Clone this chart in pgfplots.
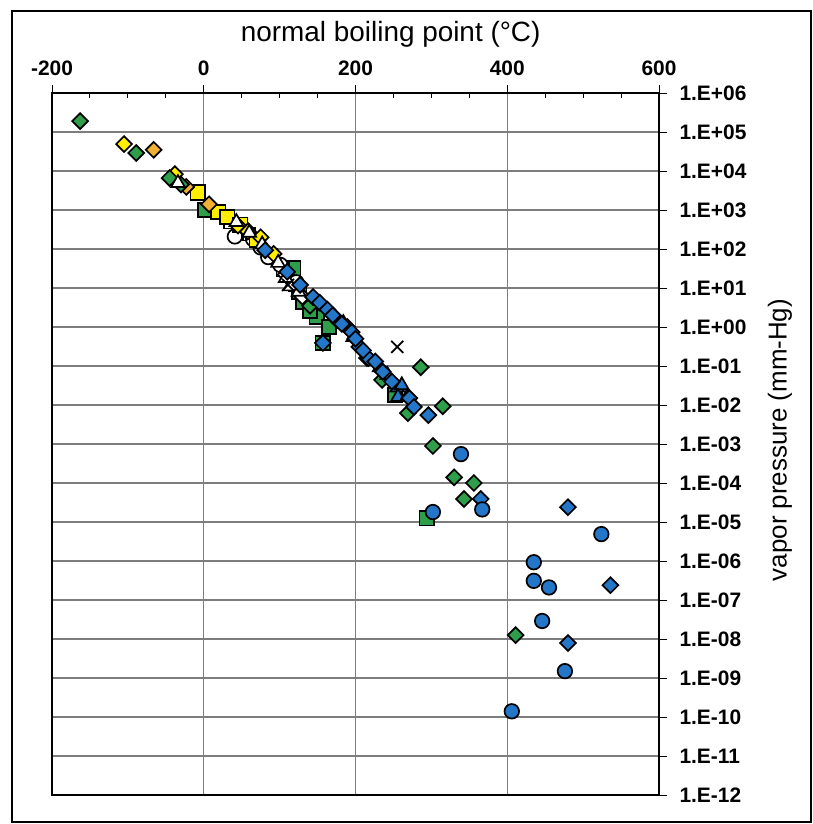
\documentclass[border=0pt]{standalone}
\usepackage{fontspec}
\setmainfont{Liberation Sans}
\usepackage{pgfplots}
\pgfplotsset{compat=1.18}
\definecolor{mgreen}{RGB}{46,158,74}
\definecolor{mblue}{RGB}{36,118,200}
\definecolor{myellow}{RGB}{255,238,0}
\definecolor{morange}{RGB}{240,176,52}
\definecolor{gridgray}{RGB}{125,125,125}
\tikzset{mk/.style={draw=black, line width=1.7bp}}
\begin{document}
\begin{tikzpicture}[x=1bp,y=1bp]
\useasboundingbox (-52,-29) rectangle (761,795);
\draw[line width=2bp] (-40,-27) rectangle (759,784);
\begin{axis}[at={(0,0)}, anchor=south west, scale only axis,
  width=607bp, height=702bp,
  xmin=-200, xmax=600, ymode=log, log basis y=10, ymin=1e-12, ymax=1e6,
  xtick={-200,0,200,400,600}, minor x tick num=3,
  ytick={1e-12,1e-11,1e-10,1e-9,1e-8,1e-7,1e-6,1e-5,1e-4,1e-3,1e-2,1e-1,1,1e1,1e2,1e3,1e4,1e5,1e6},
  yticklabels={1.E-12,1.E-11,1.E-10,1.E-09,1.E-08,1.E-07,1.E-06,1.E-05,1.E-04,1.E-03,1.E-02,1.E-01,1.E+00,1.E+01,1.E+02,1.E+03,1.E+04,1.E+05,1.E+06},
  xtick pos=right, ytick pos=right, xticklabel pos=right, yticklabel pos=right,
  /pgf/number format/assume math mode=true,
  grid=major, major grid style={gridgray, line width=1.2bp},
  axis line style={line width=2.4bp},
  tick style={black, line width=0.9bp},
  tick align=inside, major tick length=8bp, minor tick length=5bp,
  major x tick style={yshift=8bp}, major y tick style={xshift=8bp},
  xticklabel style={font=\fontsize{21}{21}\selectfont\bfseries, yshift=14bp},
  yticklabel style={font=\fontsize{21}{21}\selectfont\bfseries, xshift=17bp},
  xlabel={normal boiling point (°C)},
  ylabel={vapor pressure (mm-Hg)},
  every axis x label/.style={at={(axis description cs:0.558,1.074)}, anchor=base, font=\fontsize{28}{28}\selectfont},
  every axis y label/.style={at={(axis description cs:1.1994,0.5057)}, rotate=90, anchor=center, font=\fontsize{26}{26}\selectfont},
  clip=false,
  every axis plot/.append style={only marks},
]
% green squares
\addplot[mark=square*, mark size=7.3, mark options={mk, fill=mgreen}] coordinates {
(2,1.0e3) (118,32) (131,4.4) (126,8) (149,1.8) (140,2.6) (157,0.39) (294,1.26e-5) (252,0.018) (165,1.0)};
% white squares
\addplot[mark=square*, mark size=6.3, mark options={mk, fill=white}] coordinates {
(35,4.9e2) (60,2.4e2) (120,12) (104,30) (88,70)};
% white diamonds
\addplot[mark=square*, mark size=5.6, mark options={mk, fill=white, rotate=45}] coordinates {
(70,1.4e2) (54,3.5e2) (90,60) (108,22) (130,6)};
% white circles
\addplot[mark=*, mark size=7.3, mark options={mk, fill=white}] coordinates {
(41,2.1e2) (65,1.8e2) (85,62) (101,39) (75,1.1e2) (122,14)};
% yellow squares
\addplot[mark=square*, mark size=7.3, mark options={mk, fill=myellow}] coordinates {
(-8,2.8e3) (19,8.9e2) (31,6.6e2) (48,4.2e2) (70,1.7e2)};
% yellow diamonds
\addplot[mark=square*, mark size=5.6, mark options={mk, fill=myellow, rotate=45}] coordinates {
(-105,4.9e4) (-38,8.3e3) (58,2.8e2) (75,2.0e2) (45,4.0e2) (92,75)};
% orange diamonds
\addplot[mark=square*, mark size=5.6, mark options={mk, fill=morange, rotate=45}] coordinates {
(-66,3.5e4) (-23,3.9e3) (7,1.4e3)};
% green diamonds
\addplot[mark=square*, mark size=5.6, mark options={mk, fill=mgreen, rotate=45}] coordinates {
(-163,1.9e5) (-89,2.9e4) (-45,6.6e3) (235,4.4e-2) (269,6.2e-3) (286,9.3e-2) (315,9.3e-3)
(302,8.9e-4) (330,1.4e-4) (356,1.0e-4) (343,3.9e-5) (411,1.26e-8) (215,0.16) (140,3.5) (-30,4.5e3)};
% white triangles
\addplot[mark=triangle*, mark size=8, mark options={mk, fill=white}] coordinates {
(-34,4.9e3) (43,4.9e2) (98,44) (114,11) (77,1.3e2) (125,8) (60,2.6e2) (108,18)};
% blue triangles
\addplot[mark=triangle*, mark size=8, mark options={mk, fill=mblue}] coordinates {
(184,1.26) (197,0.55) (232,0.093) (242,0.059) (255,0.028) (261,0.032) (256,0.016) (268,0.016)};
% blue diamonds
\addplot[mark=square*, mark size=5.6, mark options={mk, fill=mblue, rotate=45}] coordinates {
(81,93) (110,26) (127,12) (144,5.9) (153,4.2) (163,2.8) (176,1.5) (189,1.0) (195,0.74)
(205,0.31) (217,0.16) (226,0.13) (236,0.071) (271,0.015) (277,8.9e-3) (157,0.39) (296,5.5e-3)
(365,3.9e-5) (480,2.4e-5) (536,2.4e-7) (480,7.9e-9) (170,2.0) (182,1.2) (200,0.5) (210,0.25) (248,0.04)};
% blue circles
\addplot[mark=*, mark size=7.3, mark options={mk, fill=mblue}] coordinates {
(339,5.5e-4) (302,1.8e-5) (367,2.1e-5) (524,4.9e-6) (435,9.3e-7) (435,3.1e-7) (455,2.1e-7)
(446,2.9e-8) (476,1.5e-9) (406,1.4e-10)};
% black crosses
\addplot[mark=x, mark size=8.5, mark options={draw=black, line width=1.8bp}] coordinates {
(255,0.31) (111,12)};
\end{axis}
\end{tikzpicture}
\end{document}
